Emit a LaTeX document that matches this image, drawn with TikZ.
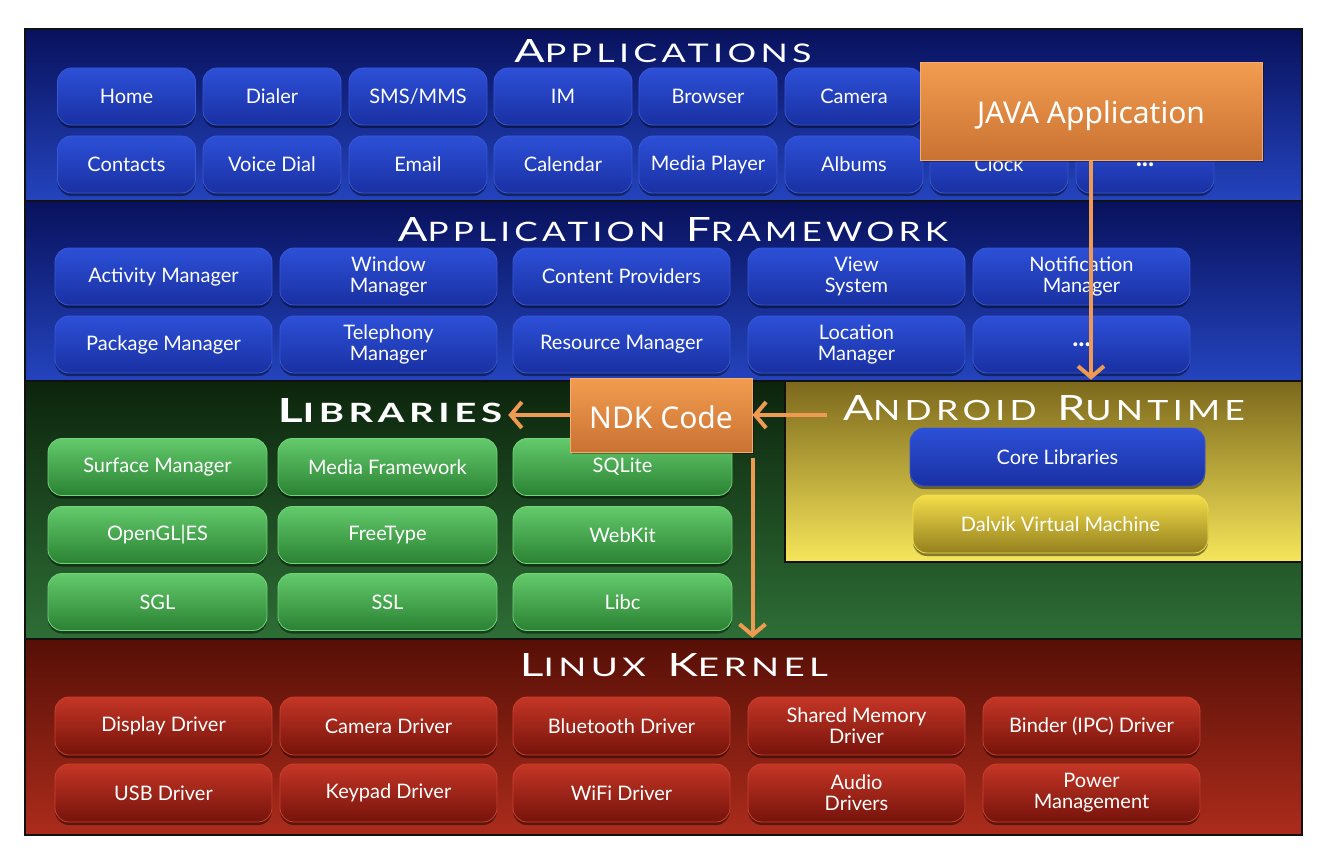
\documentclass[tikz,border=0pt]{standalone}
\usepackage{fontspec}
\usepackage{graphicx}
\setmainfont{Lato}
\newfontfamily\callfont{Noto Sans}
\newfontfamily\ttlfont[LetterSpace=12]{Lato}
\usetikzlibrary{arrows.meta,shadows}

\definecolor{appTop}{HTML}{08115C}
\definecolor{appBot}{HTML}{2444BE}
\definecolor{bbTop}{HTML}{2D50D8}
\definecolor{bbBot}{HTML}{1930A2}
\definecolor{bbEdge}{HTML}{3858D6}
\definecolor{libTop}{HTML}{0C240C}
\definecolor{libBot}{HTML}{2E6E36}
\definecolor{gbTop}{HTML}{64CA6C}
\definecolor{gbBot}{HTML}{2A8232}
\definecolor{gbEdge}{HTML}{70D478}
\definecolor{artTop}{HTML}{7C681C}
\definecolor{artBot}{HTML}{F6E65A}
\definecolor{dvTop}{HTML}{F4DE4A}
\definecolor{dvBot}{HTML}{94801E}
\definecolor{kTop}{HTML}{560F06}
\definecolor{kBot}{HTML}{AC2C1C}
\definecolor{rbTop}{HTML}{C43626}
\definecolor{rbBot}{HTML}{76130B}
\definecolor{rbEdge}{HTML}{CC4030}
\definecolor{orTop}{HTML}{F29C50}
\definecolor{orBot}{HTML}{CA7232}
\definecolor{orEdge}{HTML}{F6AC6C}
\definecolor{arrowC}{HTML}{EE9A52}
\definecolor{frame}{HTML}{111111}

\tikzset{
  band/.style={draw=frame, line width=2.5pt, inner sep=0pt},
  boxbase/.style={rounded corners=14pt, inner sep=0pt, align=center, text=white,
    font=\fontsize{20}{21}\selectfont, line width=0.8pt,
    drop shadow={shadow xshift=0pt, shadow yshift=-3pt, opacity=0.45, fill=black}},
  bluebox/.style={boxbase, top color=bbTop, bottom color=bbBot, draw=bbEdge},
  greenbox/.style={boxbase, top color=gbTop, bottom color=gbBot, draw=gbEdge},
  redbox/.style={boxbase, top color=rbTop, bottom color=rbBot, draw=rbEdge},
  dalvikbox/.style={boxbase, top color=dvTop, bottom color=dvBot, draw=dvTop},
  ttl/.style={text=white, inner sep=0pt},
  callout/.style={top color=orTop, bottom color=orBot, draw=orEdge, line width=1pt,
    text=white, inner sep=0pt,
    drop shadow={shadow xshift=2pt, shadow yshift=-2pt, opacity=0.35, fill=black}},
  arr/.style={draw=arrowC, line width=4pt,
    -{Straight Barb[length=11pt, width=26pt, line width=4pt]}}
}

% box: style, name, x, y, width, height, text
\newcommand\bx[7]{\node[#1, minimum width=#5pt, minimum height=#6pt] (#2) at (#3,#4) {#7};}
% title with target width and cap height
\newcommand\sctitle[3]{\resizebox{#1pt}{#2pt}{\ttlfont #3}}
\newcommand\Bg[1]{{\fontsize{30}{30}\selectfont #1}}
\newcommand\Sm[1]{{\fontsize{24}{24}\selectfont #1}}
\newcommand\wgap{\hspace{14pt}}
\newcommand\moredots{\textbf{\fontsize{26}{26}\selectfont ...}}

\begin{document}
\begin{tikzpicture}[x=1pt,y=-1pt]
\useasboundingbox[fill=white] (0,0) rectangle (1338,856);

% ---------- bands ----------
\node[band, top color=appTop, bottom color=appBot, minimum width=1277pt, minimum height=172pt] (appband) at (663.5,115) {};
\node[band, top color=appTop, bottom color=appBot, minimum width=1277pt, minimum height=180pt] (fwband) at (663.5,291) {};
\node[band, top color=libTop, bottom color=libBot, minimum width=1277pt, minimum height=258pt] (libband) at (663.5,510) {};
\node[band, top color=artTop, bottom color=artBot, minimum width=517pt, minimum height=181pt] (artband) at (1043.5,471.5) {};
\node[band, top color=kTop, bottom color=kBot, minimum width=1277pt, minimum height=196pt] (kband) at (663.5,737) {};

% ---------- titles ----------
\node[ttl] (tApps) at (663,51) {\sctitle{297}{23}{\Bg{A}\Sm{PPLICATIONS}}};
\node[ttl] (tFw) at (673,230) {\sctitle{550}{24}{\Bg{A}\Sm{PPLICATION}\wgap\Bg{F}\Sm{RAMEWORK}}};
\node[ttl] (tLib) at (390,411) {\sctitle{224}{24}{\bfseries\Bg{L}\Sm{IBRARIES}}};
\node[ttl] (tArt) at (1044,408) {\sctitle{402}{25}{\Bg{A}\Sm{NDROID}\wgap\Bg{R}\Sm{UNTIME}}};
\node[ttl] (tKer) at (674,665) {\sctitle{308}{23}{\Bg{L}\Sm{INUX}\wgap\Bg{K}\Sm{ERNEL}}};

% ---------- applications ----------
\bx{bluebox}{a1}{126.5}{96.5}{138}{57}{Home}
\bx{bluebox}{a2}{272}{96.5}{138}{57}{Dialer}
\bx{bluebox}{a3}{418}{96.5}{138}{57}{SMS/MMS}
\bx{bluebox}{a4}{563}{96.5}{138}{57}{IM}
\bx{bluebox}{a5}{708}{96.5}{138}{57}{Browser}
\bx{bluebox}{a6}{854}{96.5}{138}{57}{Camera}
\bx{bluebox}{a9}{126.5}{164.5}{138}{57}{Contacts}
\bx{bluebox}{a10}{272}{164.5}{138}{57}{Voice Dial}
\bx{bluebox}{a11}{418}{164.5}{138}{57}{Email}
\bx{bluebox}{a12}{563}{164.5}{138}{57}{Calendar}
\bx{bluebox}{a13}{708}{164.5}{138}{57}{Media Player}
\bx{bluebox}{a14}{854}{164.5}{138}{57}{Albums}
\bx{bluebox}{a15}{999}{164.5}{138}{57}{Clock}
\bx{bluebox}{a16}{1145}{164.5}{138}{57}{\moredots}

% ---------- application framework ----------
\bx{bluebox}{f1}{163.5}{276.5}{217}{57}{Activity Manager}
\bx{bluebox}{f2}{388.5}{276.5}{217}{57}{Window\\Manager}
\bx{bluebox}{f3}{621.5}{276.5}{217}{57}{Content Providers}
\bx{bluebox}{f4}{856.5}{276.5}{217}{57}{View\\System}
\bx{bluebox}{f5}{1081.5}{276.5}{217}{57}{Notification\\Manager}
\bx{bluebox}{f6}{163.5}{344.5}{217}{57}{Package Manager}
\bx{bluebox}{f7}{388.5}{344.5}{217}{57}{Telephony\\Manager}
\bx{bluebox}{f8}{621.5}{344.5}{217}{57}{Resource Manager}
\bx{bluebox}{f9}{856.5}{344.5}{217}{57}{Location\\Manager}
\bx{bluebox}{f10}{1081.5}{344.5}{217}{57}{\moredots}

% ---------- libraries ----------
\bx{greenbox}{l1}{157.5}{467}{219}{57}{Surface Manager}
\bx{greenbox}{l2}{387.5}{467}{219}{57}{Media Framework}
\bx{greenbox}{l3}{622.5}{467}{219}{57}{SQLite}
\bx{greenbox}{l4}{157.5}{535}{219}{57}{OpenGL|ES}
\bx{greenbox}{l5}{387.5}{535}{219}{57}{FreeType}
\bx{greenbox}{l6}{622.5}{535}{219}{57}{WebKit}
\bx{greenbox}{l7}{157.5}{602}{219}{57}{SGL}
\bx{greenbox}{l8}{387.5}{602}{219}{57}{SSL}
\bx{greenbox}{l9}{622.5}{602}{219}{57}{Libc}

% ---------- android runtime ----------
\bx{bluebox}{core}{1057.5}{457}{295}{58}{Core Libraries}
\bx{dalvikbox}{dalvik}{1060.5}{524}{295}{58}{Dalvik Virtual Machine}

% ---------- linux kernel ----------
\bx{redbox}{k1}{163.5}{726}{217}{58}{Display Driver}
\bx{redbox}{k2}{388.5}{726}{217}{58}{Camera Driver}
\bx{redbox}{k3}{621.5}{726}{217}{58}{Bluetooth Driver}
\bx{redbox}{k4}{856.5}{726}{217}{58}{Shared Memory\\Driver}
\bx{redbox}{k5}{1091.5}{726}{217}{58}{Binder (IPC) Driver}
\bx{redbox}{k6}{163.5}{793}{217}{58}{USB Driver}
\bx{redbox}{k7}{388.5}{793}{217}{58}{Keypad Driver}
\bx{redbox}{k8}{621.5}{793}{217}{58}{WiFi Driver}
\bx{redbox}{k9}{856.5}{793}{217}{58}{Audio\\Drivers}
\bx{redbox}{k10}{1091.5}{793}{217}{58}{Power\\Management}

% ---------- callouts ----------
\node[callout, minimum width=342pt, minimum height=97pt, font=\callfont\fontsize{30}{32}\selectfont] (java) at (1091,111.5) {\raisebox{-12pt}[0pt][0pt]{JAVA Application}};
\node[callout, minimum width=182pt, minimum height=74pt, font=\callfont\fontsize{30}{32}\selectfont] (ndk) at (661,415) {\raisebox{-13pt}[0pt][0pt]{NDK Code}};

% ---------- arrows ----------
\draw[arr] (java.south) -- (java.south |- artband.north);
\draw[arr, shorten >=6pt] (ndk.west) -- (ndk.west -| tLib.east);
\draw[arr] ([xshift=-16pt]tArt.west |- ndk.east) -- (ndk.east);
\draw[arr] ([yshift=-5pt]ndk.south east) -- (ndk.south east |- kband.north);
\end{tikzpicture}
\end{document}
